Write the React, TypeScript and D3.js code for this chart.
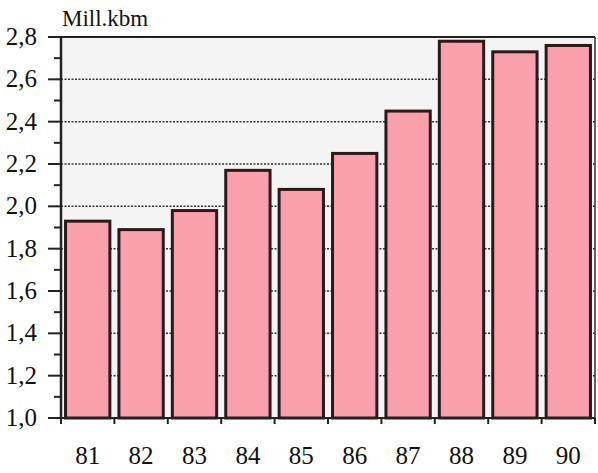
import React from "react";
import * as d3 from "d3";

const years = ["81", "82", "83", "84", "85", "86", "87", "88", "89", "90"];
const values = [1.93, 1.89, 1.98, 2.17, 2.08, 2.25, 2.45, 2.78, 2.73, 2.76];
const yMajorTicks = [1.0, 1.2, 1.4, 1.6, 1.8, 2.0, 2.2, 2.4, 2.6, 2.8];
const yMinorTicks = [1.1, 1.3, 1.5, 1.7, 1.9, 2.1, 2.3, 2.5, 2.7];
const unitLabel = "Mill.kbm";

export default function App() {
  const W = 598, H = 473;
  const left = 61, right = 595, top = 37, bottom = 418;
  const x = d3.scaleBand().domain(years).range([left, right]).paddingInner(0.17).paddingOuter(0.085);
  const xb = d3.scaleLinear().domain([0, years.length]).range([left, right]);
  const y = d3.scaleLinear().domain([1.0, 2.8]).range([bottom, top]);
  const fmt = (v: number) => v.toFixed(1).replace(".", ",");
  const txt = { fontFamily: "Liberation Serif", fontSize: "25px", fill: "#111" };
  return (
    <div style={{ position: "absolute", left: 0, top: 0, width: W, height: H }}>
      <svg width={W} height={H}>
        <rect x={0} y={0} width={W} height={H} fill="#ffffff" />
        <rect x={left} y={top} width={right - left} height={bottom - top} fill="#f4f4f4" />
        {yMajorTicks.slice(1, -1).map((v) => (
          <line key={"g" + v} x1={left} x2={right} y1={y(v)} y2={y(v)} stroke="#333" strokeWidth={1.5} strokeDasharray="2,1.5" />
        ))}
        {values.map((v, i) => (
          <rect key={"b" + i} x={x(years[i])} y={y(v)} width={x.bandwidth()} height={bottom - y(v)}
            fill="#fa9fac" stroke="#2a1a1a" strokeWidth={3} />
        ))}
        <line x1={left} x2={right} y1={top} y2={top} stroke="#222" strokeWidth={2} />
        <line x1={right} x2={right} y1={top} y2={bottom} stroke="#333" strokeWidth={1.5} />
        <line x1={left} x2={right} y1={bottom} y2={bottom} stroke="#222" strokeWidth={2} />
        <line x1={left} x2={left} y1={top} y2={bottom + 1} stroke="#222" strokeWidth={2.5} />
        {yMajorTicks.map((v) => (
          <line key={"t" + v} x1={left - 13} x2={left} y1={y(v)} y2={y(v)} stroke="#222" strokeWidth={2} />
        ))}
        {yMinorTicks.map((v) => (
          <line key={"m" + v} x1={left - 7} x2={left} y1={y(v)} y2={y(v)} stroke="#222" strokeWidth={2} />
        ))}
        {d3.range(0, years.length + 1).map((i) => (
          <line key={"xt" + i} x1={xb(i)} x2={xb(i)} y1={bottom} y2={bottom + 6} stroke="#222" strokeWidth={2} />
        ))}
        {yMajorTicks.map((v) => (
          <text key={"tl" + v} x={37} y={y(v) + 8} textAnchor="end" style={txt}>{fmt(v)}</text>
        ))}
        {years.map((yr) => (
          <text key={"xl" + yr} x={x(yr) + x.bandwidth() / 2} y={464} textAnchor="middle" style={txt}>{yr}</text>
        ))}
        <text x={62} y={26} style={{ ...txt, fontSize: "23px" }}>{unitLabel}</text>
      </svg>
    </div>
  );
}
